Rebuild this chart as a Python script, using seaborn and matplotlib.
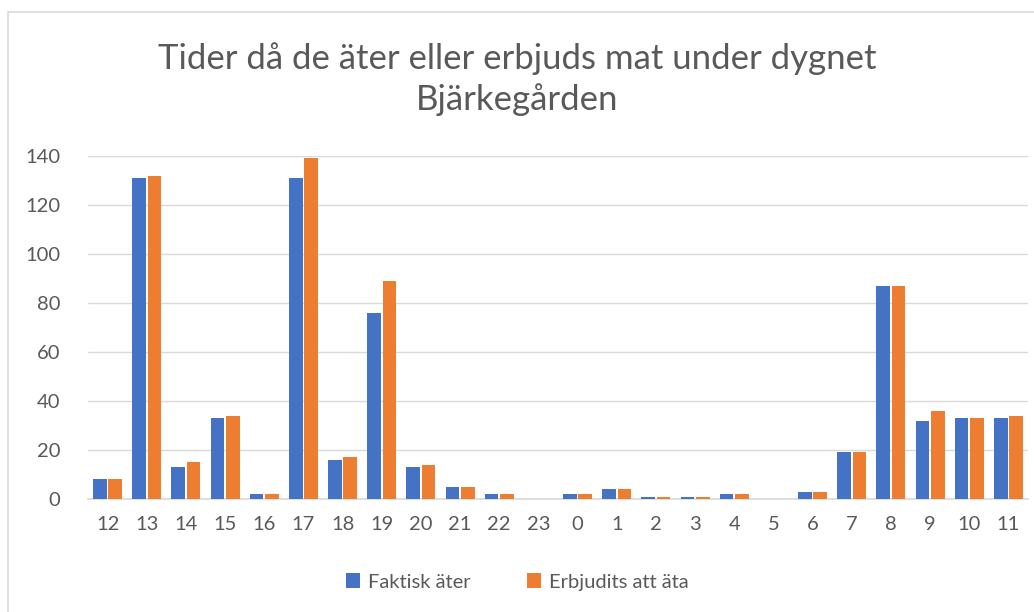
import matplotlib
matplotlib.use("Agg")
import matplotlib.pyplot as plt
import matplotlib.patches as mpatches
import pandas as pd
import seaborn as sns

hours = ["12", "13", "14", "15", "16", "17", "18", "19", "20", "21", "22", "23",
         "0", "1", "2", "3", "4", "5", "6", "7", "8", "9", "10", "11"]
faktisk = [8, 131, 13, 33, 2, 131, 16, 76, 13, 5, 2, 0,
           2, 4, 1, 1, 2, 0, 3, 19, 87, 32, 33, 33]
erbjudits = [8, 132, 15, 34, 2, 139, 17, 89, 14, 5, 2, 0,
             2, 4, 1, 1, 2, 0, 3, 19, 87, 36, 33, 34]
series = ["Faktisk äter", "Erbjudits att äta"]
colors = ["#4472C4", "#ED7D31"]

df = pd.DataFrame({
    "hour": hours * 2,
    "value": faktisk + erbjudits,
    "serie": [series[0]] * len(hours) + [series[1]] * len(hours),
})

sns.set_theme(style="white")
plt.rcParams["font.family"] = ["Lato", "DejaVu Sans"]
text_color = "#595959"

fig = plt.figure(figsize=(10.34, 6.12), dpi=100)
fig.patches.append(mpatches.Rectangle((8 / 1034, -0.05), 1.1, 1 - 12 / 612 + 0.05,
                                      transform=fig.transFigure, fill=False,
                                      edgecolor="#D9D9D9", linewidth=1.2))

ax = fig.add_axes([88 / 1034, 113 / 612, 940 / 1034, 343 / 612])
sns.barplot(data=df, x="hour", y="value", hue="serie", order=hours,
            hue_order=series, palette=colors, width=0.78, gap=0.1,
            linewidth=0, saturation=1, ax=ax)

ax.set_ylim(0, 140)
ax.set_yticks(range(0, 141, 20))
ax.set_xlim(-0.5, len(hours) - 0.5)
ax.yaxis.grid(True, color="#D9D9D9", linewidth=1)
ax.set_axisbelow(True)
for side in ["top", "right", "left"]:
    ax.spines[side].set_visible(False)
ax.spines["bottom"].set_color("#D9D9D9")
ax.spines["bottom"].set_linewidth(1.2)
ax.spines["bottom"].set_zorder(0.5)
ax.tick_params(axis="both", length=0, labelsize=14.5, colors=text_color)
ax.tick_params(axis="y", pad=20)
ax.tick_params(axis="x", pad=12)
ax.set_xlabel("")
ax.set_ylabel("")

fig.text(0.5, 1 - 79 / 612, "Tider då de äter eller erbjuds mat under dygnet\nBjärkegården",
         ha="center", va="center", fontsize=25, color=text_color, linespacing=1.3)

handles, labels = ax.get_legend_handles_labels()
ax.legend(handles, labels, loc="center", ncol=2, frameon=False, fontsize=14.5,
          labelcolor=text_color, handlelength=0.7, handleheight=0.7,
          columnspacing=2.8, handletextpad=0.4)
ax.legend_.set_bbox_to_anchor((0.5, 1 - 582 / 612), transform=fig.transFigure)

fig.savefig("out.png", dpi=100)
